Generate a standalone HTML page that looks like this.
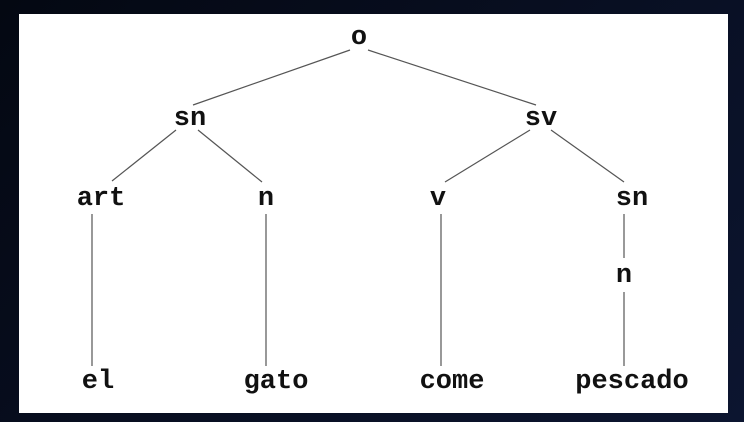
<!DOCTYPE html>
<html><head><meta charset="utf-8"><style>
html,body{margin:0;padding:0;width:744px;height:422px;overflow:hidden;background:linear-gradient(135deg,#040812,#0c1530);}
svg{position:absolute;left:0;top:0}
text{font-family:"Liberation Mono",monospace;font-weight:bold;font-size:27px;fill:#111;text-anchor:middle}
line{stroke:#555;stroke-width:1.2}
</style></head><body>
<svg width="744" height="422">
<rect x="19" y="14" width="709" height="399" fill="#fff"/>
<line x1="350" y1="50" x2="193" y2="105"/>
<line x1="368" y1="50" x2="536" y2="105"/>
<line x1="176" y1="130" x2="112" y2="181"/>
<line x1="198" y1="130" x2="262" y2="182"/>
<line x1="530" y1="130" x2="445" y2="182"/>
<line x1="551" y1="130" x2="624" y2="182"/>
<line x1="92" y1="214" x2="92" y2="366"/>
<line x1="266" y1="214" x2="266" y2="366"/>
<line x1="441" y1="214" x2="441" y2="366"/>
<line x1="624" y1="214" x2="624" y2="258"/>
<line x1="624" y1="292" x2="624" y2="366"/>
<text x="359" y="44">o</text>
<text x="190" y="125">sn</text>
<text x="541" y="125">sv</text>
<text x="101" y="205">art</text>
<text x="266" y="205">n</text>
<text x="438" y="205">v</text>
<text x="632" y="205">sn</text>
<text x="624" y="282">n</text>
<text x="98" y="388">el</text>
<text x="276" y="388">gato</text>
<text x="452" y="388">come</text>
<text x="632" y="388">pescado</text>
</svg>
</body></html>
